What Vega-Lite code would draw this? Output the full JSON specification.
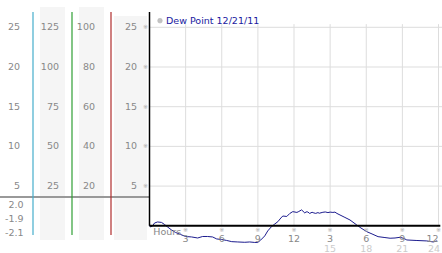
{
  "$schema": "https://vega.github.io/schema/vega-lite/v6.json",
  "width": 442,
  "height": 253,
  "autosize": {"type": "none"},
  "padding": 0,
  "background": "white",
  "config": {
    "axis": {"disable": true},
    "legend": {"disable": true},
    "view": {"stroke": null},
    "text": {"font": "DejaVu Sans", "fontSize": 9.5}
  },
  "datasets": {
    "dew": [
      {"h": 0, "t": 0.1}, {"h": 0.08, "t": -0.15}, {"h": 0.25, "t": -0.03}, {"h": 0.42, "t": 0.35},
      {"h": 0.67, "t": 0.48}, {"h": 1.0, "t": 0.42}, {"h": 1.25, "t": 0.16}, {"h": 1.5, "t": -0.15},
      {"h": 1.83, "t": -0.53}, {"h": 2.16, "t": -0.84}, {"h": 2.58, "t": -1.1}, {"h": 3.0, "t": -1.35},
      {"h": 3.5, "t": -1.41}, {"h": 4.0, "t": -1.54}, {"h": 4.41, "t": -1.35}, {"h": 4.83, "t": -1.35},
      {"h": 5.24, "t": -1.41}, {"h": 5.58, "t": -1.66}, {"h": 5.99, "t": -1.73}, {"h": 6.41, "t": -1.85},
      {"h": 6.83, "t": -2.0}, {"h": 7.33, "t": -2.04}, {"h": 7.91, "t": -2.08}, {"h": 8.32, "t": -2.04},
      {"h": 8.74, "t": -2.1}, {"h": 8.99, "t": -2.1}, {"h": 9.24, "t": -1.79}, {"h": 9.57, "t": -1.28},
      {"h": 9.82, "t": -0.65}, {"h": 10.13, "t": -0.11}, {"h": 10.41, "t": 0.23}, {"h": 10.66, "t": 0.52},
      {"h": 10.91, "t": 0.98}, {"h": 11.07, "t": 1.23}, {"h": 11.4, "t": 1.17}, {"h": 11.65, "t": 1.55},
      {"h": 11.9, "t": 1.78}, {"h": 12.24, "t": 1.68}, {"h": 12.4, "t": 1.8}, {"h": 12.63, "t": 2.0},
      {"h": 12.9, "t": 1.61}, {"h": 13.0, "t": 1.75}, {"h": 13.15, "t": 1.74}, {"h": 13.3, "t": 1.55},
      {"h": 13.5, "t": 1.7}, {"h": 13.65, "t": 1.62}, {"h": 13.8, "t": 1.56}, {"h": 13.99, "t": 1.66},
      {"h": 14.1, "t": 1.58}, {"h": 14.4, "t": 1.7}, {"h": 14.6, "t": 1.74}, {"h": 14.82, "t": 1.66},
      {"h": 15.0, "t": 1.72}, {"h": 15.23, "t": 1.68}, {"h": 15.4, "t": 1.72}, {"h": 15.57, "t": 1.55},
      {"h": 15.82, "t": 1.36}, {"h": 16.23, "t": 1.05}, {"h": 16.65, "t": 0.73}, {"h": 17.21, "t": 0.1},
      {"h": 17.56, "t": -0.28}, {"h": 18.04, "t": -0.74}, {"h": 18.48, "t": -1.03}, {"h": 18.98, "t": -1.37},
      {"h": 19.48, "t": -1.47}, {"h": 19.98, "t": -1.57}, {"h": 20.39, "t": -1.54}, {"h": 20.81, "t": -1.45},
      {"h": 21.14, "t": -1.6}, {"h": 21.37, "t": -1.79}, {"h": 22.14, "t": -1.85}, {"h": 23.03, "t": -1.91},
      {"h": 23.56, "t": -2.04}, {"h": 23.89, "t": -1.9}
    ],
    "ticks": [
      {"h": 3, "l12": "3", "l24": ""}, {"h": 6, "l12": "6", "l24": ""},
      {"h": 9, "l12": "9", "l24": ""}, {"h": 12, "l12": "12", "l24": ""},
      {"h": 15, "l12": "3", "l24": "15"}, {"h": 18, "l12": "6", "l24": "18"},
      {"h": 21, "l12": "9", "l24": "21"}, {"h": 24, "l12": "12", "l24": "24"}
    ],
    "levels": [{"level": 5}, {"level": 10}, {"level": 15}, {"level": 20}, {"level": 25}],
    "scales": [
      {"col": "A", "level": 25, "label": "25"}, {"col": "A", "level": 20, "label": "20"},
      {"col": "A", "level": 15, "label": "15"}, {"col": "A", "level": 10, "label": "10"},
      {"col": "A", "level": 5, "label": "5"},
      {"col": "B", "level": 25, "label": "125"}, {"col": "B", "level": 20, "label": "100"},
      {"col": "B", "level": 15, "label": "75"}, {"col": "B", "level": 10, "label": "50"},
      {"col": "B", "level": 5, "label": "25"},
      {"col": "C", "level": 25, "label": "100"}, {"col": "C", "level": 20, "label": "80"},
      {"col": "C", "level": 15, "label": "60"}, {"col": "C", "level": 10, "label": "40"},
      {"col": "C", "level": 5, "label": "20"},
      {"col": "D", "level": 25, "label": "25"}, {"col": "D", "level": 20, "label": "20"},
      {"col": "D", "level": 15, "label": "15"}, {"col": "D", "level": 10, "label": "10"},
      {"col": "D", "level": 5, "label": "5"}
    ],
    "cols": [{"col": "A"}, {"col": "B"}, {"col": "C"}, {"col": "D"}],
    "stats": [{"col": "A", "lines": ["2.0", "-1.9", "-2.1"]}]
  },
  "resolve": {"scale": {"x": "independent"}},
  "layer": [
    {
      "layer": [
        {
          "data": {"name": "cols"},
          "transform": [{"filter": "datum.col === 'B' || datum.col === 'C'"}],
          "mark": {"type": "bar", "width": {"band": 0.64}, "color": "#f5f5f5"},
          "encoding": {
            "x": {"field": "col", "type": "nominal", "scale": {"type": "band", "domain": ["A", "B", "C", "D"], "range": [-6, 150], "paddingInner": 0, "paddingOuter": 0}},
            "y": {"datum": 27.56, "type": "quantitative", "scale": {"domain": [-3.43, 28.44], "nice": false, "zero": false}},
            "y2": {"datum": -1.79}
          }
        },
        {
          "data": {"name": "cols"},
          "transform": [{"filter": "datum.col === 'D'"}],
          "mark": {"type": "bar", "width": {"band": 0.85}, "color": "#f5f5f5"},
          "encoding": {
            "x": {"field": "col", "type": "nominal"},
            "y": {"datum": 26.42, "type": "quantitative"},
            "y2": {"datum": -1.79}
          }
        },
        {
          "data": {"name": "cols"},
          "mark": {"type": "rect", "color": "#999999"},
          "encoding": {
            "x": {"field": "col", "type": "nominal"},
            "y": {"datum": 3.75, "type": "quantitative"},
            "y2": {"datum": 3.5}
          }
        },
        {
          "data": {"name": "cols"},
          "transform": [{"filter": "datum.col !== 'D'"}],
          "mark": {"type": "rule", "strokeWidth": 1.2},
          "encoding": {
            "x": {"field": "col", "type": "nominal", "bandPosition": 1},
            "y": {"datum": 26.93, "type": "quantitative"},
            "y2": {"datum": -1.16},
            "color": {"field": "col", "type": "nominal", "scale": {"domain": ["A", "B", "C"], "range": ["#45aecb", "#2f9f35", "#b02c2c"]}, "legend": null}
          }
        },
        {
          "data": {"name": "scales"},
          "transform": [{"filter": "datum.col !== 'C'"}],
          "mark": {"type": "text", "align": "right", "baseline": "middle", "dx": 6.5, "color": "#888888"},
          "encoding": {
            "x": {"field": "col", "type": "nominal"},
            "y": {"field": "level", "type": "quantitative"},
            "text": {"field": "label", "type": "nominal"}
          }
        },
        {
          "data": {"name": "scales"},
          "transform": [{"filter": "datum.col === 'C'"}],
          "mark": {"type": "text", "align": "right", "baseline": "middle", "dx": 3.5, "color": "#888888"},
          "encoding": {
            "x": {"field": "col", "type": "nominal"},
            "y": {"field": "level", "type": "quantitative"},
            "text": {"field": "label", "type": "nominal"}
          }
        },
        {
          "data": {"name": "scales"},
          "transform": [{"filter": "datum.col === 'D'"}],
          "mark": {"type": "text", "align": "center", "baseline": "middle", "dx": -4.5, "fontSize": 6, "color": "#aaaaaa"},
          "encoding": {
            "x": {"field": "col", "type": "nominal", "bandPosition": 1},
            "y": {"field": "level", "type": "quantitative"},
            "text": {"value": "※"}
          }
        },
        {
          "data": {"name": "stats"},
          "mark": {"type": "text", "align": "right", "baseline": "middle", "dx": 10, "lineHeight": 14, "color": "#888888"},
          "encoding": {
            "x": {"field": "col", "type": "nominal"},
            "y": {"datum": 2.62, "type": "quantitative"},
            "text": {"field": "lines", "type": "nominal"}
          }
        }
      ]
    },
    {
      "layer": [
        {
          "data": {"name": "levels"},
          "mark": {"type": "rule", "color": "#dddddd", "strokeWidth": 1},
          "encoding": {
            "x": {"datum": 0, "type": "quantitative", "scale": {"domain": [0, 24], "range": [149.5, 438.5], "nice": false, "zero": false}},
            "x2": {"datum": 24.4},
            "y": {"field": "level", "type": "quantitative"}
          }
        },
        {
          "data": {"name": "ticks"},
          "mark": {"type": "rule", "color": "#dddddd", "strokeWidth": 1},
          "encoding": {
            "x": {"field": "h", "type": "quantitative"},
            "y": {"datum": 0, "type": "quantitative"},
            "y2": {"datum": 25.4}
          }
        },
        {
          "data": {"name": "dew"},
          "mark": {"type": "line", "color": "#1c1c8e", "strokeWidth": 1},
          "encoding": {
            "x": {"field": "h", "type": "quantitative"},
            "y": {"field": "t", "type": "quantitative"}
          }
        },
        {
          "data": {"values": [{}]},
          "mark": {"type": "rule", "color": "black", "strokeWidth": 2},
          "encoding": {
            "x": {"datum": 0, "type": "quantitative"},
            "x2": {"datum": 24.15},
            "y": {"datum": 0, "type": "quantitative"}
          }
        },
        {
          "data": {"values": [{}]},
          "mark": {"type": "rule", "color": "black", "strokeWidth": 1.5},
          "encoding": {
            "x": {"datum": 0, "type": "quantitative"},
            "y": {"datum": 26.93, "type": "quantitative"},
            "y2": {"datum": 0}
          }
        },
        {
          "data": {"name": "ticks"},
          "mark": {"type": "text", "align": "center", "baseline": "middle", "fontSize": 6, "color": "#aaaaaa"},
          "encoding": {
            "x": {"field": "h", "type": "quantitative"},
            "y": {"datum": -0.55, "type": "quantitative"},
            "text": {"value": "※"}
          }
        },
        {
          "data": {"name": "ticks"},
          "transform": [{"filter": "datum.h < 24"}],
          "mark": {"type": "text", "align": "center", "baseline": "middle", "color": "#888888"},
          "encoding": {
            "x": {"field": "h", "type": "quantitative"},
            "y": {"datum": -1.7, "type": "quantitative"},
            "text": {"field": "l12", "type": "nominal"}
          }
        },
        {
          "data": {"name": "ticks"},
          "transform": [{"filter": "datum.h < 24"}],
          "mark": {"type": "text", "align": "center", "baseline": "middle", "color": "#cccccc"},
          "encoding": {
            "x": {"field": "h", "type": "quantitative"},
            "y": {"datum": -2.95, "type": "quantitative"},
            "text": {"field": "l24", "type": "nominal"}
          }
        },
        {
          "data": {"name": "ticks"},
          "transform": [{"filter": "datum.h === 24"}],
          "mark": {"type": "text", "align": "right", "baseline": "middle", "color": "#888888"},
          "encoding": {
            "x": {"field": "h", "type": "quantitative"},
            "y": {"datum": -1.7, "type": "quantitative"},
            "text": {"field": "l12", "type": "nominal"}
          }
        },
        {
          "data": {"name": "ticks"},
          "transform": [{"filter": "datum.h === 24"}],
          "mark": {"type": "text", "align": "right", "baseline": "middle", "dx": 1.5, "color": "#cccccc"},
          "encoding": {
            "x": {"field": "h", "type": "quantitative"},
            "y": {"datum": -2.95, "type": "quantitative"},
            "text": {"field": "l24", "type": "nominal"}
          }
        },
        {
          "data": {"values": [{"label": "Hours"}]},
          "mark": {"type": "text", "align": "left", "baseline": "middle", "color": "#888888"},
          "encoding": {
            "x": {"datum": 0.32, "type": "quantitative"},
            "y": {"datum": -0.74, "type": "quantitative"},
            "text": {"field": "label", "type": "nominal"}
          }
        },
        {
          "data": {"values": [{"series": "Dew Point 12/21/11"}]},
          "mark": {"type": "point", "filled": true, "size": 22, "color": "#aaaaaa", "stroke": "#999999", "strokeWidth": 0.5},
          "encoding": {
            "x": {"datum": 0.87, "type": "quantitative"},
            "y": {"datum": 25.83, "type": "quantitative"}
          }
        },
        {
          "data": {"values": [{"series": "Dew Point 12/21/11"}]},
          "mark": {"type": "text", "align": "left", "baseline": "middle", "color": "#1a1aa0"},
          "encoding": {
            "x": {"datum": 1.37, "type": "quantitative"},
            "y": {"datum": 25.83, "type": "quantitative"},
            "text": {"field": "series", "type": "nominal"}
          }
        }
      ]
    }
  ]
}
